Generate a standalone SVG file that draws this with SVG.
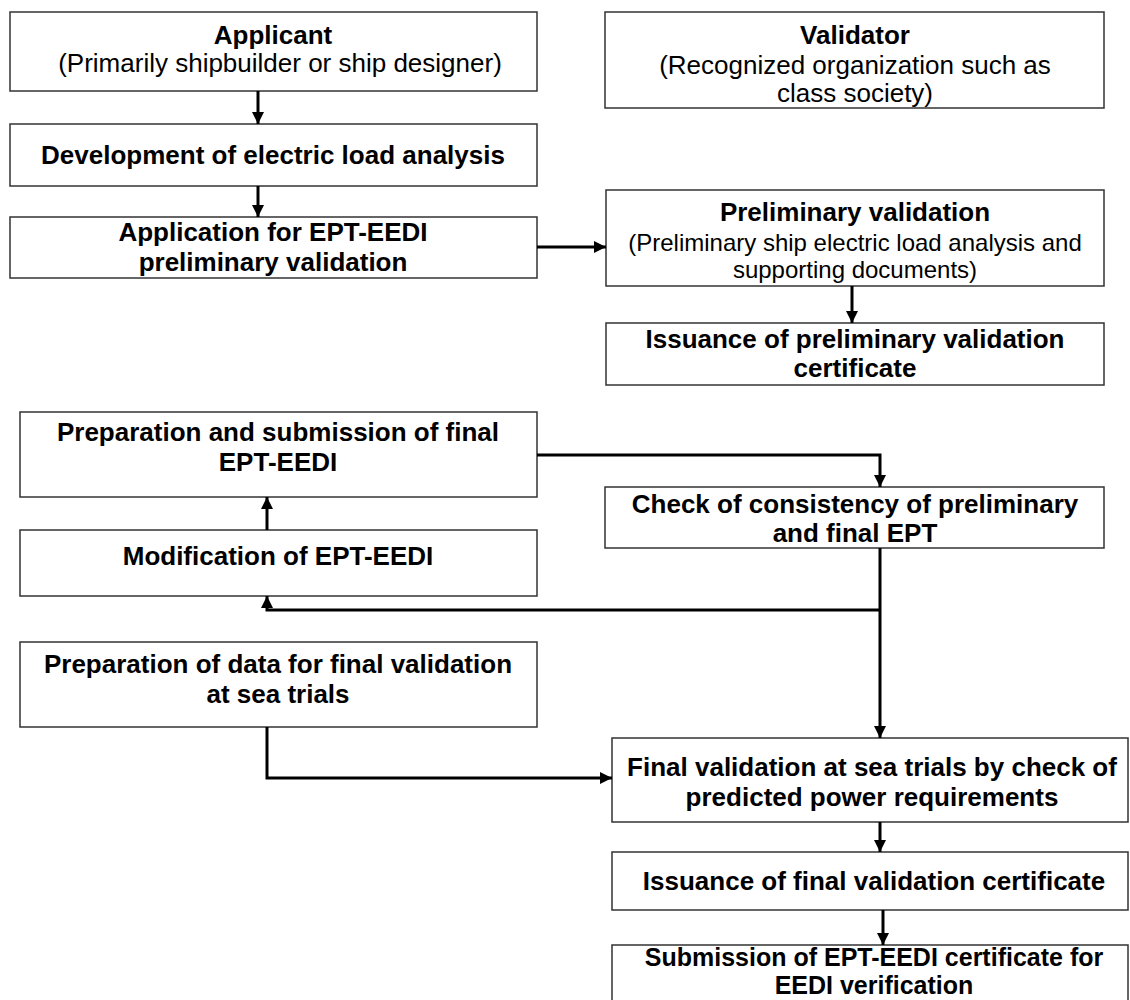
<svg xmlns="http://www.w3.org/2000/svg" width="1130" height="1000" viewBox="0 0 1130 1000">
<defs>
<marker id="ah" viewBox="0 0 10 10" refX="10" refY="5" markerWidth="4" markerHeight="4.4" orient="auto" markerUnits="strokeWidth">
<path d="M0,0 L10,5 L0,10 z" fill="#000"/>
</marker>
<style>
.box{fill:#fff;stroke:#333;stroke-width:1.5}
.t{font-family:"Liberation Sans",Arial,sans-serif;font-size:26px;font-weight:bold;fill:#000;text-anchor:middle}
.s{font-family:"Liberation Sans",Arial,sans-serif;font-size:26px;fill:#000;text-anchor:middle}
.c{fill:none;stroke:#000;stroke-width:3}
</style>
</defs>
<rect width="1130" height="1000" fill="#fff"/>
<g id="applicant"><rect class="box" x="10" y="12" width="527" height="79"/><text class="t" x="273" y="44">Applicant</text><text class="s" x="280" y="72">(Primarily shipbuilder or ship designer)</text></g>
<g id="validator"><rect class="box" x="605" y="12" width="499" height="96"/><text class="t" x="855" y="44">Validator</text><text class="s" x="855" y="74">(Recognized organization such as</text><text class="s" x="855" y="102">class society)</text></g>
<g id="development"><rect class="box" x="10" y="124" width="527" height="62"/><text class="t" x="273" y="164">Development of electric load analysis</text></g>
<g id="application"><rect class="box" x="10" y="217" width="527" height="61"/><text class="t" x="273" y="241">Application for EPT-EEDI</text><text class="t" x="273" y="271">preliminary validation</text></g>
<g id="prelim"><rect class="box" x="606" y="190" width="498" height="96"/><text class="t" x="855" y="221">Preliminary validation</text><text class="s" x="855" y="251" style="font-size:24px">(Preliminary ship electric load analysis and</text><text class="s" x="855" y="278" style="font-size:24px">supporting documents)</text></g>
<g id="issuance-prelim"><rect class="box" x="606" y="323" width="498" height="62"/><text class="t" x="855" y="348">Issuance of preliminary validation</text><text class="t" x="855" y="377">certificate</text></g>
<g id="prep-submission"><rect class="box" x="20" y="412" width="517" height="85"/><text class="t" x="278" y="441">Preparation and submission of final</text><text class="t" x="278" y="471">EPT-EEDI</text></g>
<g id="check"><rect class="box" x="605" y="487" width="499" height="61"/><text class="t" x="855" y="513">Check of consistency of preliminary</text><text class="t" x="855" y="542">and final EPT</text></g>
<g id="modification"><rect class="box" x="20" y="530" width="517" height="66"/><text class="t" x="278" y="565">Modification of EPT-EEDI</text></g>
<g id="prep-data"><rect class="box" x="20" y="642" width="517" height="85"/><text class="t" x="278" y="673">Preparation of data for final validation</text><text class="t" x="278" y="703">at sea trials</text></g>
<g id="final-validation"><rect class="box" x="612" y="738" width="516" height="84"/><text class="t" x="872" y="776">Final validation at sea trials by check of</text><text class="t" x="872" y="806">predicted power requirements</text></g>
<g id="issuance-final"><rect class="box" x="612" y="852" width="516" height="58"/><text class="t" x="874" y="890">Issuance of final validation certificate</text></g>
<g id="submission"><rect class="box" x="612" y="945" width="516" height="70"/><text class="t" x="874" y="966" style="font-size:25px">Submission of EPT-EEDI certificate for</text><text class="t" x="874" y="994" style="font-size:25px">EEDI verification</text></g>
<g id="connectors">
<path class="c" d="M258,91 V124" marker-end="url(#ah)"/>
<path class="c" d="M258,186 V217" marker-end="url(#ah)"/>
<path class="c" d="M537,247 H606" marker-end="url(#ah)"/>
<path class="c" d="M852,286 V323" marker-end="url(#ah)"/>
<path class="c" d="M537,455 H880 V487" marker-end="url(#ah)"/>
<path class="c" d="M267,530 V497" marker-end="url(#ah)"/>
<path class="c" d="M880,548 V738" marker-end="url(#ah)"/>
<path class="c" d="M880,610 H267 V596" marker-end="url(#ah)"/>
<path class="c" d="M267,727 V778 H612" marker-end="url(#ah)"/>
<path class="c" d="M880,822 V852" marker-end="url(#ah)"/>
<path class="c" d="M883,910 V945" marker-end="url(#ah)"/>
</g>
</svg>
